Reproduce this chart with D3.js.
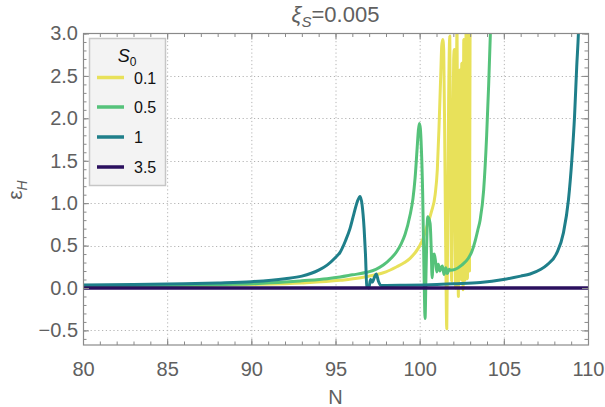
<!DOCTYPE html>
<html>
<head>
<meta charset="utf-8">
<script src="https://cdn.jsdelivr.net/npm/d3@7"></script>
<style>
  html, body { margin: 0; padding: 0; background: #fff; }
  svg { display: block; font-family: "Liberation Sans", Arial, sans-serif; }
</style>
</head>
<body>
<svg id="chart" width="605" height="407"></svg>
<script>
// ε_H against N for several initial field values S0 (ξ_S = 0.005)
const seriesLabels = ["0.1", "0.5", "1", "3.5"];
const seriesColors = ["#e8e15a", "#55c27a", "#1f7f8a", "#2a0f5e"];

const s01 = [
  [80, 0.01], [85, 0.02], [90, 0.04], [93, 0.06], [95.27, 0.09], [96.5, 0.12],
  [97.25, 0.15], [98, 0.19], [98.64, 0.25], [99.1, 0.3], [99.43, 0.35],
  [99.92, 0.47], [100.2, 0.58], [100.42, 0.72], [100.7, 0.9], [100.92, 1.1],
  [101.05, 1.4], [101.15, 1.9], [101.25, 2.5], [101.31, 2.85], [101.37, 2.93],
  [101.43, 2.8], [101.5, 1.5], [101.56, 0.2], [101.61, -0.48], [101.66, 0.6],
  [101.72, 2.2], [101.79, 2.97], [101.85, 1.0], [101.9, 0.08], [101.96, 1.5],
  [102.02, 2.7], [102.06, 2.81], [102.1, 0.9], [102.14, 0.0], [102.18, 2.1],
  [102.22, 3.1], [102.26, 1.2], [102.3, -0.1], [102.34, 1.6], [102.38, 2.57],
  [102.42, 0.6], [102.46, 0.1], [102.5, 2.65], [102.54, 1.4], [102.58, -0.02],
  [102.62, 2.93], [102.66, 1.2], [102.7, 0.09], [102.76, 3.1], [102.8, 1.5],
  [102.84, 0.11], [102.88, 3.1], [102.92, 0.5], [102.96, 0.2], [103.0, 3.5],
  [103.04, 4.0]
];

const s05 = [
  [80, 0.02], [84, 0.028], [88, 0.04], [90, 0.05], [92, 0.07], [93, 0.085],
  [94.5, 0.11], [95.27, 0.13], [96.0, 0.155], [96.86, 0.185], [97.4, 0.22],
  [97.84, 0.27], [98.3, 0.35], [98.64, 0.43], [98.9, 0.52], [99.13, 0.63],
  [99.43, 0.86], [99.6, 1.05], [99.73, 1.3], [99.85, 1.65], [99.92, 1.85],
  [99.98, 1.94], [100.04, 1.88], [100.1, 1.65], [100.18, 1.1], [100.24, 0.4],
  [100.28, -0.05], [100.32, -0.36], [100.38, 0.2], [100.48, 0.84],
  [100.62, 0.76], [100.68, 0.5], [100.74, 0.12], [100.81, 0.39], [100.87, 0.4],
  [100.95, 0.3], [101.02, 0.19], [101.11, 0.28], [101.2, 0.2], [101.28, 0.24],
  [101.35, 0.26], [101.45, 0.16], [101.55, 0.24], [101.65, 0.17], [101.75, 0.22],
  [101.81, 0.21], [102.1, 0.22], [102.5, 0.27], [102.89, 0.35], [103.1, 0.43],
  [103.29, 0.55], [103.45, 0.68], [103.59, 0.8], [103.8, 1.15], [103.98, 1.8],
  [104.1, 2.4], [104.2, 3.0], [104.26, 3.4]
];

const s1 = [
  [80, 0.035], [83, 0.04], [86, 0.05], [88, 0.06], [90, 0.075], [92, 0.11],
  [93, 0.14], [94, 0.21], [94.5, 0.27], [95, 0.36], [95.27, 0.42], [95.6, 0.56],
  [95.86, 0.7], [96.1, 0.88], [96.3, 1.02], [96.46, 1.08], [96.58, 0.98],
  [96.7, 0.7], [96.78, 0.4], [96.86, 0.02], [96.98, 0.0], [97.08, 0.1],
  [97.18, 0.07], [97.32, 0.13], [97.42, 0.165], [97.55, 0.08], [97.7, 0.03],
  [98, 0.03], [99, 0.032], [100.6, 0.038], [102, 0.05], [103.6, 0.065],
  [104.97, 0.1], [106, 0.14], [106.56, 0.165], [107.2, 0.22], [107.55, 0.27],
  [108.14, 0.41], [108.54, 0.65], [108.84, 1.04], [109.04, 1.51], [109.2, 2.02],
  [109.33, 2.61], [109.43, 3.0], [109.5, 3.4]
];

const s35 = [[80, 0], [110, 0]];

const seriesData = [s01, s05, s1, s35];

const xMajorTicks = [80, 85, 90, 95, 100, 105, 110];
const yMajorTicks = [-0.5, 0, 0.5, 1, 1.5, 2, 2.5, 3];

// plot frame
const frameLeft = 83, frameRight = 588, frameTop = 33.5, frameBottom = 345;
const svg = d3.select("#chart");

const x = d3.scaleLinear().domain([80, 110]).range([frameLeft, frameRight]);
const y = d3.scaleLinear().domain([-0.672, 3.0]).range([frameBottom, frameTop]);

const xMinor = d3.range(80, 111, 1);
const yMinor = d3.range(-6, 31, 1).map(v => +(v / 10).toFixed(1));

// dotted grid
const grid = svg.append("g").attr("stroke", "#b4b4b4").attr("stroke-width", 1)
  .attr("stroke-dasharray", "1.2,2.6");
grid.selectAll("line.gx").data(xMajorTicks.filter(v => v > 80 && v < 110)).join("line")
  .attr("x1", d => x(d) + 0.5).attr("x2", d => x(d) + 0.5)
  .attr("y1", frameTop).attr("y2", frameBottom);
grid.selectAll("line.gy").data(yMajorTicks.filter(v => v < 3)).join("line")
  .attr("y1", d => Math.round(y(d)) + 0.5).attr("y2", d => Math.round(y(d)) + 0.5)
  .attr("x1", frameLeft).attr("x2", frameRight);

// curves, clipped to the frame
svg.append("clipPath").attr("id", "plotclip").append("rect")
  .attr("x", frameLeft).attr("y", frameTop)
  .attr("width", frameRight - frameLeft).attr("height", frameBottom - frameTop);

const line = d3.line().x(d => x(d[0])).y(d => y(d[1])).curve(d3.curveMonotoneX);
const curves = svg.append("g").attr("clip-path", "url(#plotclip)");
seriesData.forEach((data, i) => {
  curves.append("path")
    .attr("d", line(data))
    .attr("fill", "none")
    .attr("stroke", seriesColors[i])
    .attr("stroke-width", i === 3 ? 3.4 : 3)
    .attr("stroke-linejoin", "round")
    .attr("stroke-linecap", "butt");
});

// axes with inward ticks on all four sides
const tickColor = "#8a8a8a";
function styleAxis(g) {
  g.select(".domain").remove();
  g.selectAll(".tick line").attr("stroke", tickColor);
  g.selectAll(".tick text").attr("fill", "#606060").style("font-size", "20px")
    .style("font-family", "'Liberation Sans', Arial, sans-serif");
}
// minor ticks
svg.append("g").attr("transform", `translate(0,${frameBottom})`)
  .call(d3.axisBottom(x).tickValues(xMinor).tickSize(-3.5).tickFormat("")).call(styleAxis);
svg.append("g").attr("transform", `translate(0,${frameTop})`)
  .call(d3.axisTop(x).tickValues(xMinor).tickSize(-3.5).tickFormat("")).call(styleAxis);
svg.append("g").attr("transform", `translate(${frameLeft},0)`)
  .call(d3.axisLeft(y).tickValues(yMinor).tickSize(-3.5).tickFormat("")).call(styleAxis);
svg.append("g").attr("transform", `translate(${frameRight},0)`)
  .call(d3.axisRight(y).tickValues(yMinor).tickSize(-3.5).tickFormat("")).call(styleAxis);
// major ticks
svg.append("g").attr("transform", `translate(0,${frameBottom})`)
  .call(d3.axisBottom(x).tickValues(xMajorTicks).tickSize(-6).tickPadding(17).tickFormat(d3.format("d")))
  .call(styleAxis);
svg.append("g").attr("transform", `translate(0,${frameTop})`)
  .call(d3.axisTop(x).tickValues(xMajorTicks).tickSize(-6).tickFormat("")).call(styleAxis);
svg.append("g").attr("transform", `translate(${frameLeft},0)`)
  .call(d3.axisLeft(y).tickValues(yMajorTicks).tickSize(-6).tickPadding(5).tickFormat(d3.format(".1f")))
  .call(styleAxis);
svg.append("g").attr("transform", `translate(${frameRight},0)`)
  .call(d3.axisRight(y).tickValues(yMajorTicks).tickSize(-6).tickFormat("")).call(styleAxis);

// frame
svg.append("rect").attr("x", frameLeft + 0.5).attr("y", frameTop)
  .attr("width", frameRight - frameLeft).attr("height", frameBottom - frameTop)
  .attr("fill", "none").attr("stroke", "#8a8a8a").attr("stroke-width", 1.2);

// title
const title = svg.append("text").attr("x", (frameLeft + frameRight) / 2).attr("y", 22)
  .attr("text-anchor", "middle").attr("fill", "#606060").style("font-size", "22px");
title.append("tspan").style("font-style", "italic").text("ξ");
title.append("tspan").attr("dy", 5).style("font-size", "15px").style("font-style", "italic").text("S");
title.append("tspan").attr("dy", -5).text("=0.005");

// axis labels
svg.append("text").attr("x", (frameLeft + frameRight) / 2).attr("y", 404)
  .attr("text-anchor", "middle").attr("fill", "#606060").style("font-size", "20px").text("N");
const yl = svg.append("text").attr("transform", "translate(22,190) rotate(-90)")
  .attr("text-anchor", "middle").attr("fill", "#606060").style("font-size", "21px");
yl.append("tspan").text("ε");
yl.append("tspan").attr("dy", 5).style("font-size", "14px").style("font-style", "italic").text("H");

// legend
const lg = svg.append("g");
lg.append("rect").attr("x", 89.5).attr("y", 38.5).attr("width", 76).attr("height", 147)
  .attr("fill", "#f3f3f3").attr("stroke", "#c6c6c6").attr("stroke-width", 1.5);
const lt = lg.append("text").attr("x", 127).attr("y", 62).attr("text-anchor", "middle")
  .attr("fill", "#111").style("font-size", "18px");
lt.append("tspan").style("font-style", "italic").text("S");
lt.append("tspan").attr("dy", 4).style("font-size", "12px").text("0");
const legendRows = [77.5, 107, 137, 167];
seriesLabels.forEach((lab, i) => {
  lg.append("line").attr("x1", 97).attr("x2", 124)
    .attr("y1", legendRows[i]).attr("y2", legendRows[i])
    .attr("stroke", seriesColors[i]).attr("stroke-width", 3.5);
  lg.append("text").attr("x", 134).attr("y", legendRows[i] + 6)
    .attr("fill", "#111").style("font-size", "16px").text(lab);
});
</script>
</body>
</html>
